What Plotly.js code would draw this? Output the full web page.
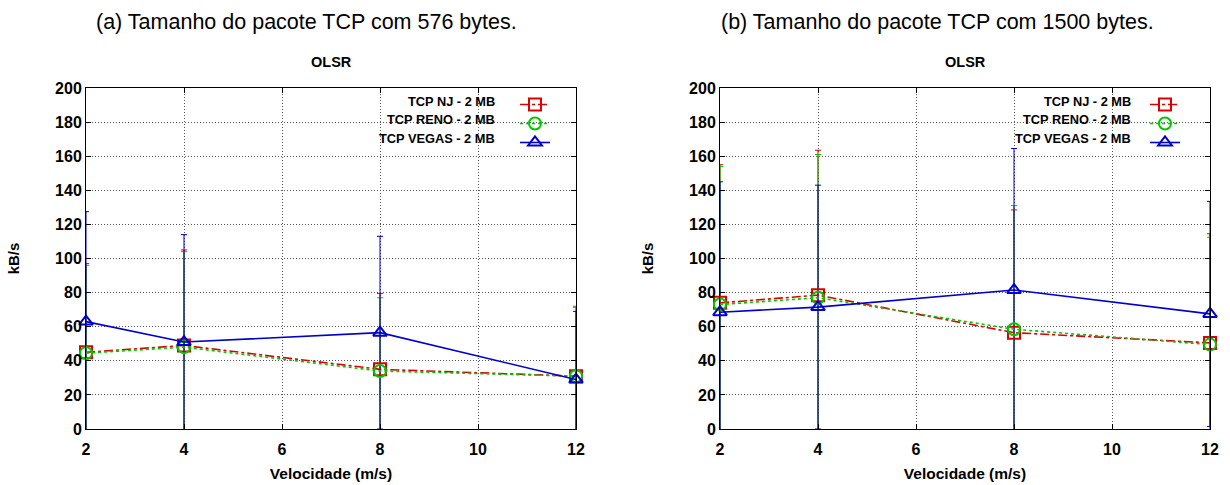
<!DOCTYPE html>
<html>
<head>
<meta charset="utf-8">
<script src="https://cdn.plot.ly/plotly-3.0.1.min.js"></script>
<style>
  html, body { margin: 0; padding: 0; background: #fff; }
  #chart { width: 1230px; height: 485px; }
</style>
</head>
<body>
<div id="chart"></div>
<script>
// Mean throughput (kB/s) versus node speed, OLSR routing, 2 MB transfer
const speeds = [2, 4, 8, 12];
const xTicks = [2, 4, 6, 8, 10, 12];
const yTicks = [0, 20, 40, 60, 80, 100, 120, 140, 160, 180, 200];

// (a) 576-byte TCP packets
const a_nj      = [45, 49, 35, 31];
const a_nj_sd   = [52, 56, 44.5, 40.5];
const a_reno    = [44.5, 48, 34, 31];
const a_reno_sd = [51.5, 56, 43, 41];
const a_vegas   = [63, 51, 56.5, 29];
const a_vegas_sd= [64.5, 63, 56.5, 40];

// (b) 1500-byte TCP packets
const b_nj      = [74, 78.5, 56.5, 50.5];
const b_nj_sd   = [81, 85, 72, 64];
const b_reno    = [73, 77, 58.5, 49.5];
const b_reno_sd = [81, 84, 72.5, 63];
const b_vegas   = [68.5, 71.5, 81.5, 67.5];
const b_vegas_sd= [76.5, 71.5, 83, 66];

const seriesNames = ['TCP NJ - 2 MB', 'TCP RENO - 2 MB', 'TCP VEGAS - 2 MB'];
const colors = ['#dd0000', '#00c800', '#0000cc'];
const dashes = ['dashdot', 'dot', 'solid'];
const symbols = ['square-open', 'circle-open', 'triangle-up-open'];

const FONT = 'Liberation Sans, Arial, Helvetica, sans-serif';

function panelTraces(xa, ya, legendId, data) {
  const out = [];
  // error bars first (clipped to the plot area)
  data.forEach((d, i) => {
    out.push({
      x: speeds, y: d.y, xaxis: xa, yaxis: ya,
      type: 'scatter', mode: 'markers',
      marker: { size: 1, opacity: 0 },
      error_y: { type: 'data', array: d.sd, visible: true,
                 color: colors[i], thickness: 1, width: 3 },
      showlegend: false, hoverinfo: 'skip', cliponaxis: true
    });
  });
  // lines and markers (markers allowed over the frame at the edges)
  data.forEach((d, i) => {
    out.push({
      x: speeds, y: d.y, xaxis: xa, yaxis: ya,
      type: 'scatter', mode: 'lines+markers',
      name: ' ', legend: legendId,
      line: { color: colors[i], width: 1.6, dash: dashes[i] },
      marker: { symbol: symbols[i], size: 12, color: colors[i],
                line: { color: colors[i], width: 2 } },
      cliponaxis: false
    });
  });
  return out;
}

const traces = [].concat(
  panelTraces('x', 'y', 'legend', [
    { y: a_nj, sd: a_nj_sd }, { y: a_reno, sd: a_reno_sd }, { y: a_vegas, sd: a_vegas_sd }
  ]),
  panelTraces('x2', 'y2', 'legend2', [
    { y: b_nj, sd: b_nj_sd }, { y: b_reno, sd: b_reno_sd }, { y: b_vegas, sd: b_vegas_sd }
  ])
);

const W = 1230, H = 485;
const px = v => v / W;
const py = v => 1 - v / H;

function xAxis(domain, anchor) {
  return {
    domain: domain, anchor: anchor, range: [2, 12],
    tickvals: xTicks, ticktext: xTicks.map(String),
    ticks: 'inside', ticklen: 5, tickcolor: '#000', mirror: 'ticks',
    ticklabelstandoff: 6,
    showline: true, linecolor: '#000', linewidth: 1,
    showgrid: true, gridcolor: '#555', griddash: '1px,2px', gridwidth: 1,
    zeroline: false,
    tickfont: { family: FONT, size: 16, color: '#000', weight: 'bold' },
    title: { text: 'Velocidade (m/s)', standoff: 10,
             font: { family: FONT, size: 15.5, color: '#000', weight: 'bold' } }
  };
}
function yAxis(domain, anchor) {
  return {
    domain: domain, anchor: anchor, range: [0, 200],
    tickvals: yTicks, ticktext: yTicks.map(String),
    ticks: 'inside', ticklen: 5, tickcolor: '#000', mirror: 'ticks',
    showline: true, linecolor: '#000', linewidth: 1,
    showgrid: true, gridcolor: '#555', griddash: '1px,2px', gridwidth: 1,
    zeroline: false,
    tickfont: { family: FONT, size: 16, color: '#000', weight: 'bold' },
    title: { text: 'kB/s', standoff: 31,
             font: { family: FONT, size: 15, color: '#000', weight: 'bold' } }
  };
}

const yDom = [py(429), py(88)];
const legendBase = {
  bgcolor: 'rgba(0,0,0,0)', borderwidth: 0,
  font: { family: FONT, size: 11, color: '#000' },
  xanchor: 'left', yanchor: 'top', tracegroupgap: 0, itemwidth: 30
};

const annotations = [];
const panels = [
  { title: '(a) Tamanho do pacote TCP com 576 bytes.', tx: 306, cx: 331, textRight: 497 },
  { title: '(b) Tamanho do pacote TCP com 1500 bytes.', tx: 937, cx: 965, textRight: 1133 }
];
const legendRows = [101, 119.5, 138];
panels.forEach(p => {
  annotations.push({
    text: p.title, xref: 'paper', yref: 'paper', x: px(p.tx), y: py(22),
    xanchor: 'center', yanchor: 'middle', showarrow: false,
    font: { family: FONT, size: 21.5, color: '#000' }
  });
  annotations.push({
    text: 'OLSR', xref: 'paper', yref: 'paper', x: px(p.cx), y: py(62),
    xanchor: 'center', yanchor: 'middle', showarrow: false,
    font: { family: FONT, size: 14.5, color: '#000', weight: 'bold' }
  });
  seriesNames.forEach((n, i) => {
    annotations.push({
      text: n, xref: 'paper', yref: 'paper', x: px(p.textRight), y: py(legendRows[i]),
      xanchor: 'right', yanchor: 'middle', showarrow: false,
      font: { family: FONT, size: 12.8, color: '#000', weight: 'bold' }
    });
  });
});

const layout = {
  width: W, height: H, autosize: false,
  margin: { l: 0, r: 0, t: 0, b: 0 },
  paper_bgcolor: '#fff', plot_bgcolor: '#fff',
  showlegend: true,
  xaxis: xAxis([px(86), px(576)], 'y'),
  yaxis: yAxis(yDom, 'x'),
  xaxis2: xAxis([px(720), px(1210)], 'y2'),
  yaxis2: yAxis(yDom, 'x2'),
  legend: Object.assign({}, legendBase, { x: px(515), y: py(90) }),
  legend2: Object.assign({}, legendBase, { x: px(1145), y: py(90) }),
  annotations: annotations
};

Plotly.newPlot('chart', traces, layout, { displayModeBar: false, staticPlot: true });
</script>
</body>
</html>
